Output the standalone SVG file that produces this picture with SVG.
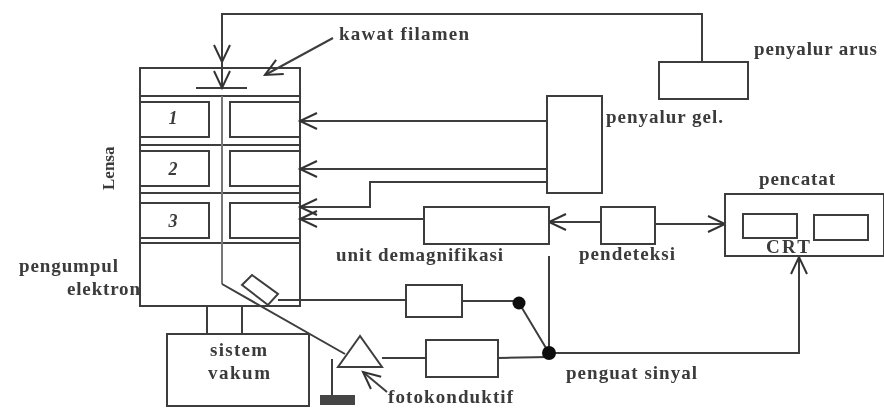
<svg xmlns="http://www.w3.org/2000/svg" width="884" height="416" viewBox="0 0 884 416">
<defs>
<filter id="soft" x="-5%" y="-5%" width="110%" height="110%"><feGaussianBlur stdDeviation="0.6"/></filter>
<marker id="open" markerUnits="userSpaceOnUse" markerWidth="24" markerHeight="24" refX="20" refY="12" orient="auto"><path d="M3 4 L20 12 L3 20" fill="none" stroke="#333" stroke-width="2"/></marker>
</defs>
<style>
.l{fill:none;stroke:#3d3d3d;stroke-width:2}
.b{fill:#fff;stroke:#3d3d3d;stroke-width:2}
.g{stroke:#777;stroke-width:2;fill:none}
text{font-family:"Liberation Serif","Times New Roman",serif;font-size:19px;font-weight:bold;fill:#3a3a3a}
.n{font-style:italic;font-size:18px;text-anchor:middle}
</style>
<rect width="884" height="416" fill="#fff"/>
<g filter="url(#soft)">
<g id="lensa-kolom">
<rect class="b" x="140" y="68" width="160" height="238"/>
<path class="l" d="M140 96H300M140 145H300M140 193H300M140 243H300"/>
<path class="g" d="M222 96V284"/>
<path class="l" d="M196 88H247"/>
<rect class="b" x="140" y="102" width="69" height="35"/>
<rect class="b" x="230" y="102" width="70" height="35"/>
<rect class="b" x="140" y="151" width="69" height="35"/>
<rect class="b" x="230" y="151" width="70" height="35"/>
<rect class="b" x="140" y="203" width="69" height="35"/>
<rect class="b" x="230" y="203" width="70" height="35"/>
<text class="n" x="173" y="124">1</text>
<text class="n" x="173" y="175">2</text>
<text class="n" x="173" y="227">3</text>
</g>
<g id="connectors">
<path class="l" d="M702 62V14H222V62" marker-end="url(#open)"/>
<path class="l" d="M222 62V88" marker-end="url(#open)"/>
<path class="l" d="M333 38L265 75" marker-end="url(#open)"/>
<path class="l" d="M547 121H300" marker-end="url(#open)"/>
<path class="l" d="M547 169H300" marker-end="url(#open)"/>
<path class="l" d="M547 182H370V207H300" marker-end="url(#open)"/>
<path class="l" d="M424 219H300" marker-end="url(#open)"/>
<path class="l" d="M601 222H549" marker-end="url(#open)"/>
<path class="l" d="M655 224H725" marker-end="url(#open)"/>
<path class="l" d="M207 306V334M242 306V334"/>
<path class="l" d="M222 284L345 354"/>
<path class="l" d="M278 300H406M462 301H519"/>
<path class="l" d="M382 358H426M497 358L549 357"/>
<path class="l" d="M549 256V353M519 303L549 353"/>
<path class="l" d="M549 353H799V257" marker-end="url(#open)"/>
<path class="l" d="M387 392L363 372" marker-end="url(#open)"/>
<path class="l" d="M332 359V398"/>
</g>
<g id="detektor"><path class="b" d="M252 275L278 294L268 305L242 285Z"/></g>
<g id="sistem-vakum">
<rect class="b" x="167" y="334" width="142" height="72"/>
<text x="210" y="356" textLength="57">sistem</text>
<text x="208" y="379" textLength="62">vakum</text>
</g>
<g id="fotokonduktif">
<path class="b" d="M360 336L338 367H382Z"/>
<rect x="320" y="395" width="35" height="10" fill="#444"/>
<text x="388" y="403" textLength="125">fotokonduktif</text>
</g>
<g id="penguat-1"><rect class="b" x="406" y="285" width="56" height="32"/></g>
<g id="penguat-2"><rect class="b" x="426" y="340" width="72" height="37"/></g>
<g id="titik"><circle cx="519" cy="303" r="6.5" fill="#111"/><circle cx="549" cy="353" r="7" fill="#111"/></g>
<g id="unit-demagnifikasi">
<rect class="b" x="424" y="207" width="125" height="37"/>
<text x="336" y="261" textLength="167">unit demagnifikasi</text>
</g>
<g id="pendeteksi">
<rect class="b" x="601" y="207" width="54" height="37"/>
<text x="579" y="260" textLength="96">pendeteksi</text>
</g>
<g id="penyalur-gel">
<rect class="b" x="547" y="96" width="55" height="97"/>
<text x="606" y="123" textLength="117">penyalur gel.</text>
</g>
<g id="penyalur-arus">
<rect class="b" x="659" y="62" width="89" height="37"/>
<text x="754" y="55" textLength="123">penyalur arus</text>
</g>
<g id="pencatat">
<rect class="b" x="725" y="194" width="159" height="62"/>
<rect class="b" x="743" y="214" width="54" height="24"/>
<rect class="b" x="814" y="215" width="54" height="25"/>
<text x="766" y="253" textLength="44">CRT</text>
<text x="759" y="185" textLength="76">pencatat</text>
</g>
<g id="labels">
<text x="339" y="40" textLength="130">kawat filamen</text>
<text x="19" y="272" textLength="99">pengumpul</text>
<text x="67" y="295" textLength="73">elektron</text>
<text x="566" y="379" textLength="131">penguat sinyal</text>
<text transform="translate(114 190) rotate(-90)" style="font-size:17px">Lensa</text>
</g>
</g>
</svg>
